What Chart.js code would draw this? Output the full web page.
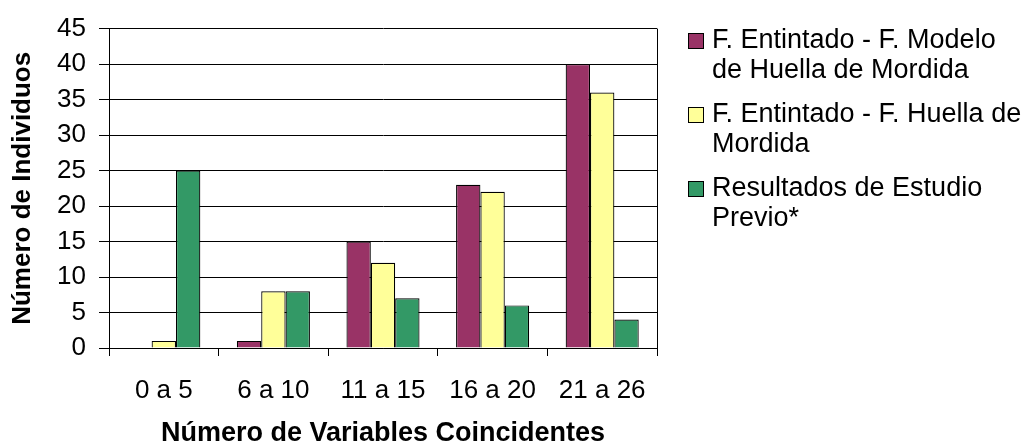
<!DOCTYPE html>
<html lang="es">
<head>
<meta charset="utf-8">
<title>Número de Variables Coincidentes</title>
<script src="https://cdn.jsdelivr.net/npm/chart.js@4.4.1/dist/chart.umd.min.js"></script>
<style>
  html, body { margin: 0; padding: 0; background: #fff; }
  #wrap { position: relative; width: 1025px; height: 447px; overflow: hidden; }
  #chart { position: absolute; left: 0; top: 0; }
  #legend {
    position: absolute; left: 688px; top: 24px;
    font-family: "Liberation Sans", Arial, sans-serif; font-size: 27px; line-height: 30px; color: #000;
  }
  .item { position: relative; padding-left: 24px; margin-bottom: 14px; white-space: nowrap; }
  .swatch { position: absolute; left: 0; top: 9px; width: 14px; height: 14px; border: 1px solid #000; }
</style>
</head>
<body>
<div id="wrap">
  <canvas id="chart" width="1025" height="447"></canvas>
  <div id="legend"></div>
</div>
<script>
// Categories and series counts
const categories = ['0 a 5', '6 a 10', '11 a 15', '16 a 20', '21 a 26'];
const modeloValues = [0, 1, 15, 23, 40];
const huellaValues = [1, 8, 12, 22, 36];
const previoValues = [25, 8, 7, 6, 4];

const seriesNames = [
  ['F. Entintado - F. Modelo', 'de Huella de Mordida'],
  ['F. Entintado - F. Huella de', 'Mordida'],
  ['Resultados de Estudio', 'Previo*']
];
const seriesColors = ['#993366', '#FFFF99', '#339966'];

// y axis range / tick step
const yMin = 0, yMax = 45, yStep = 5;

const FONT = '"Liberation Sans", Arial, sans-serif';

// Frame on the right side of the plot area
const plotFrame = {
  id: 'plotFrame',
  afterDraw(chart) {
    const { ctx, chartArea: a } = chart;
    ctx.save();
    ctx.strokeStyle = '#000';
    ctx.lineWidth = 1;
    ctx.beginPath();
    ctx.moveTo(Math.round(a.right) + 0.5, a.top);
    ctx.lineTo(Math.round(a.right) + 0.5, a.bottom);
    ctx.stroke();
    ctx.restore();
  }
};

const values = [modeloValues, huellaValues, previoValues];

new Chart(document.getElementById('chart'), {
  type: 'bar',
  data: {
    labels: categories,
    datasets: values.map((v, i) => ({
      label: seriesNames[i].join(' '),
      data: v,
      backgroundColor: seriesColors[i],
      borderColor: '#000',
      borderWidth: 1.2,
      borderSkipped: 'start',
      categoryPercentage: 2 / 3,
      barPercentage: 1
    }))
  },
  options: {
    responsive: false,
    animation: false,
    devicePixelRatio: 1,
    layout: { padding: { left: 0, top: 26, right: 368, bottom: 0 } },
    plugins: { legend: { display: false }, tooltip: { enabled: false } },
    scales: {
      x: {
        grid: { drawOnChartArea: false, drawTicks: true, tickLength: 8, color: '#000', offset: true },
        border: { color: '#000', width: 1 },
        ticks: { color: '#000', font: { family: FONT, size: 26 }, padding: 19, maxRotation: 0, autoSkip: false },
        title: {
          display: true, text: 'Número de Variables Coincidentes', color: '#000',
          font: { family: FONT, size: 27, weight: 'bold', lineHeight: 1 },
          padding: { top: 0, bottom: 0 }
        },
        afterFit(s) { s.height = 99; }
      },
      y: {
        min: yMin, max: yMax,
        grid: { color: '#000', lineWidth: 1, drawTicks: true, tickLength: 10, tickColor: '#000' },
        border: { color: '#000', width: 1 },
        ticks: { stepSize: yStep, color: '#000', font: { family: FONT, size: 26 }, padding: 13 },
        title: {
          display: true, text: 'Número de Individuos', color: '#000',
          font: { family: FONT, size: 26, weight: 'bold', lineHeight: 1.2 },
          padding: { top: 7, bottom: 0 }
        },
        afterFit(s) { s.width = 109; }
      }
    }
  },
  plugins: [plotFrame]
});

// Legend beside the plot, two lines per entry
const legend = document.getElementById('legend');
seriesNames.forEach((lines, i) => {
  const item = document.createElement('div');
  item.className = 'item';
  const sw = document.createElement('span');
  sw.className = 'swatch';
  sw.style.background = seriesColors[i];
  item.appendChild(sw);
  lines.forEach((t, k) => {
    if (k) item.appendChild(document.createElement('br'));
    item.appendChild(document.createTextNode(t));
  });
  legend.appendChild(item);
});
</script>
</body>
</html>
